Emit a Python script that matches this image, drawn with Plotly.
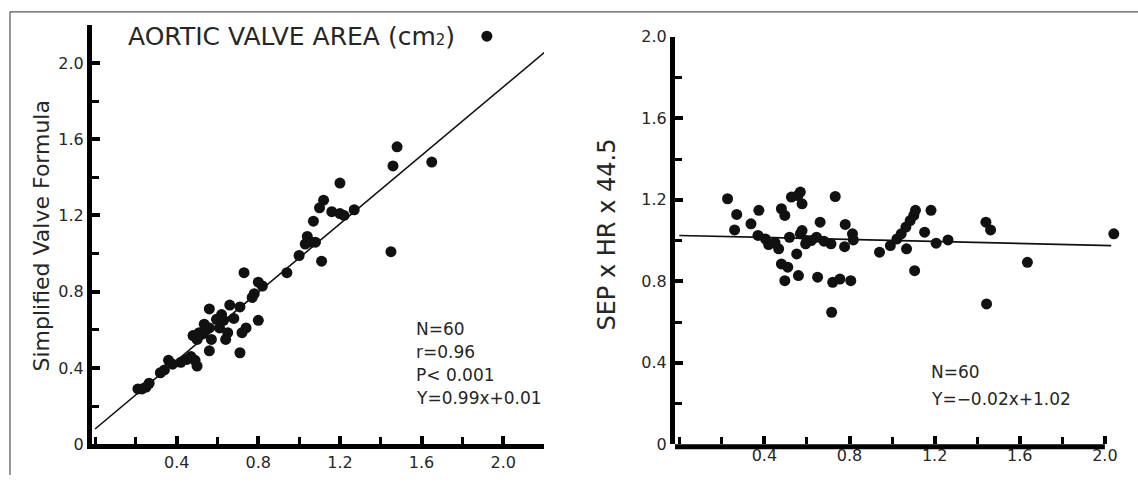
import plotly.graph_objects as go

# ---------------- data ----------------
# Left panel: Aortic valve area (x) vs simplified valve formula (y)
avaX = [1.92, 1.48, 1.46, 1.65, 1.20, 1.45, 1.11, 1.12, 1.10, 1.16, 1.20, 1.22, 1.27,
        1.07, 1.04, 1.06, 1.03, 1.08, 1.00, 0.94, 0.73, 0.80, 0.82, 0.77, 0.80, 0.74,
        0.72, 0.71, 0.66, 0.71, 0.63, 0.61, 0.65, 0.64, 0.56, 0.56, 0.535, 0.53, 0.57,
        0.56, 0.50, 0.48, 0.49, 0.50, 0.45, 0.42, 0.36, 0.38, 0.34, 0.32, 0.265, 0.23,
        0.21, 0.25, 0.595, 0.68, 0.78, 0.62, 0.51, 0.47]
avaY = [2.14, 1.56, 1.46, 1.48, 1.37, 1.01, 0.96, 1.28, 1.24, 1.22, 1.21, 1.20, 1.23,
        1.17, 1.09, 1.06, 1.05, 1.06, 0.99, 0.90, 0.90, 0.85, 0.83, 0.77, 0.65, 0.61,
        0.585, 0.48, 0.73, 0.72, 0.65, 0.61, 0.585, 0.55, 0.71, 0.61, 0.63, 0.58, 0.55,
        0.49, 0.55, 0.57, 0.44, 0.41, 0.445, 0.43, 0.44, 0.42, 0.39, 0.375, 0.32, 0.29,
        0.29, 0.30, 0.655, 0.66, 0.79, 0.68, 0.585, 0.46]
fitLeftX = [0.0, 2.23]
fitLeftY = [0.08, 2.08]

# Right panel: Aortic valve area (x) vs SEP x HR x 44.5 (y)
sepX = [0.227, 0.27, 0.26, 0.337, 0.374, 0.37, 0.405, 0.42, 0.467, 0.48, 0.496, 0.527,
        0.557, 0.569, 0.577, 0.48, 0.51, 0.496, 0.56, 0.552, 0.518, 0.569, 0.594, 0.62,
        0.645, 0.662, 0.65, 0.713, 0.733, 0.716, 0.721, 0.755, 0.806, 0.777, 0.78,
        0.814, 0.818, 0.941, 0.992, 1.023, 1.043, 1.065, 1.085, 1.102, 1.11, 1.068,
        1.106, 1.183, 1.153, 1.207, 1.263, 1.441, 1.463, 1.444, 1.636, 2.042, 0.577,
        0.68, 0.60, 0.45]
sepY = [1.205, 1.128, 1.052, 1.082, 1.148, 1.025, 1.008, 0.98, 0.959, 1.156, 1.123,
        1.213, 1.221, 1.238, 1.18, 0.885, 0.869, 0.803, 0.828, 0.934, 1.016, 1.033,
        0.984, 1.0, 1.016, 1.09, 0.82, 0.984, 1.216, 0.648, 0.795, 0.811, 0.803, 0.97,
        1.079, 1.033, 1.003, 0.943, 0.975, 1.008, 1.033, 1.066, 1.098, 1.123, 1.148,
        0.959, 0.852, 1.148, 1.041, 0.987, 1.003, 1.09, 1.052, 0.689, 0.893, 1.033,
        1.049, 0.997, 1.0, 0.99]
fitRightX = [0.0, 2.03]
fitRightY = [1.025, 0.975]

majorTicks = [0.4, 0.8, 1.2, 1.6, 2.0]
majorText = ["0.4", "0.8", "1.2", "1.6", "2.0"]
yTicks = [0, 0.4, 0.8, 1.2, 1.6, 2.0]
yText = ["0", "0.4", "0.8", "1.2", "1.6", "2.0"]

statsLeft = ["N=60", "r=0.96", "P< 0.001", "Y=0.99x+0.01"]
statsRight = ["N=60", "Y=\u22120.02x+1.02"]

# ---------------- figure ----------------
W, H = 1138, 485
FONT = "DejaVu Sans, Liberation Sans, Arial, sans-serif"
TXT = "#262626"


def px_x(p):
    return p / W


def px_y(p):
    return (H - (p - 9.2) / 0.962) / H


fig = go.Figure()

mk = dict(color="#111111", size=11)
fig.add_trace(go.Scatter(x=avaX, y=avaY, mode="markers", marker=mk, xaxis="x", yaxis="y",
                         cliponaxis=False))
fig.add_trace(go.Scatter(x=fitLeftX, y=fitLeftY, mode="lines", line=dict(color="#111111", width=1.6),
                         xaxis="x", yaxis="y"))
fig.add_trace(go.Scatter(x=sepX, y=sepY, mode="markers", marker=mk, xaxis="x2", yaxis="y2",
                         cliponaxis=False))
fig.add_trace(go.Scatter(x=fitRightX, y=fitRightY, mode="lines", line=dict(color="#111111", width=1.6),
                         xaxis="x2", yaxis="y2"))

LW = 5
axis_common = dict(
    showline=True, linecolor="#000000", linewidth=LW,
    showgrid=False, zeroline=False,
    ticks="inside", ticklen=8, tickwidth=4, tickcolor="#000000",
    tickmode="array",
    tickfont=dict(family=FONT, size=16, color=TXT),
    minor=dict(ticks="inside", ticklen=7, tickwidth=2.5, tickcolor="#000000",
               tickmode="linear", tick0=0, dtick=0.2, showgrid=False),
)

# right panel x axis: same scale, range extended so the far point (x>2.0) stays visible;
# its axis line is drawn only up to 2.0 (shape below)
r_x0, r_x1 = 675, 1107          # pixel positions of -0.02 and 2.01
r_scale = (r_x1 - r_x0) / 2.03
r_max = 2.08
r_dom_end = r_x0 + r_scale * (r_max + 0.02)

fig.update_layout(
    width=W, height=H,
    margin=dict(l=0, r=0, t=0, b=0),
    paper_bgcolor="white", plot_bgcolor="white",
    showlegend=False,
    xaxis=dict(axis_common, domain=[px_x(92), px_x(544)], range=[-0.015, 2.2],
               tickvals=majorTicks, ticktext=majorText, anchor="y", ticklabelstandoff=0),
    yaxis=dict(axis_common, domain=[px_y(445), px_y(25)], range=[0, 2.2],
               tickvals=yTicks, ticktext=yText, anchor="x", ticklabelstandoff=0),
    xaxis2=dict(axis_common, domain=[r_x0 / W, r_dom_end / W], range=[-0.02, r_max],
                tickvals=majorTicks, ticktext=majorText, anchor="y2", ticklabelstandoff=0,
                showline=False),
    yaxis2=dict(axis_common, domain=[px_y(445), px_y(37)], range=[0, 2.0],
                tickvals=yTicks, ticktext=yText, anchor="x2", ticklabelstandoff=0),
)

ann = []
ann.append(dict(text="AORTIC VALVE AREA (cm<span style='font-size:15px'>2</span>)",
                x=px_x(126), y=px_y(37), xref="paper", yref="paper",
                xanchor="left", yanchor="middle", showarrow=False,
                font=dict(family=FONT, size=25, color=TXT)))
ann.append(dict(text="Simplified Valve Formula", textangle=-90,
                x=px_x(42), y=px_y(236), xref="paper", yref="paper",
                xanchor="center", yanchor="middle", showarrow=False,
                font=dict(family=FONT, size=22, color=TXT)))
ann.append(dict(text="SEP x HR x 44.5", textangle=-90,
                x=px_x(607), y=px_y(235), xref="paper", yref="paper",
                xanchor="center", yanchor="middle", showarrow=False,
                font=dict(family=FONT, size=24, color=TXT)))
for i, t in enumerate(statsLeft):
    ann.append(dict(text=t, x=px_x(414), y=px_y(330 + 23 * i), xref="paper", yref="paper",
                    xanchor="left", yanchor="middle", showarrow=False,
                    font=dict(family=FONT, size=17, color=TXT)))
for i, t in enumerate(statsRight):
    ann.append(dict(text=t, x=px_x(929), y=px_y(373 + 27 * i), xref="paper", yref="paper",
                    xanchor="left", yanchor="middle", showarrow=False,
                    font=dict(family=FONT, size=17, color=TXT)))
fig.update_layout(annotations=ann)

# frame lines of the scanned figure + right-panel x-axis line ending at 2.0
y2_px = (445 - 37) / 0.962
fig.update_layout(shapes=[
    dict(type="line", xref="paper", yref="paper", x0=px_x(10), x1=1, y0=px_y(12), y1=px_y(12),
         line=dict(color="#555555", width=1.2)),
    dict(type="line", xref="paper", yref="paper", x0=px_x(10), x1=px_x(10), y0=px_y(12), y1=0,
         line=dict(color="#555555", width=1.2)),
    dict(type="line", xref="x2", yref="y2 domain", x0=-0.02 - (LW / 2) / r_scale, x1=2.0,
         y0=-(LW / 2) / y2_px, y1=-(LW / 2) / y2_px,
         line=dict(color="#000000", width=LW)),
])

fig.write_html("out.html", config={"displayModeBar": False},
               post_script="document.body.style.margin='0';document.body.style.overflow='hidden';")
